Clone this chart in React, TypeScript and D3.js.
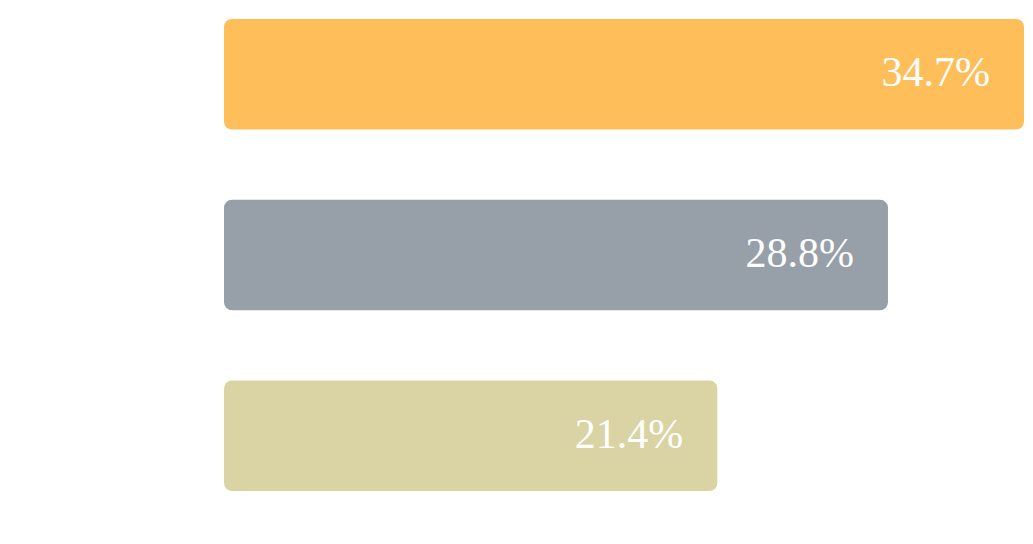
import React from 'react';
import * as d3 from 'd3';

const categories = ['First', 'Second', 'Third'];
const shares = [34.7, 28.8, 21.4];
const barColors = ['#FEBE5A', '#97A0A8', '#DAD3A3'];

const WIDTH = 1033;
const HEIGHT = 544;
const margin = { top: 19, right: 9, bottom: 53, left: 224 };

export default function App() {
  const xScale = d3
    .scaleLinear()
    .domain([0, d3.max(shares) as number])
    .range([margin.left, WIDTH - margin.right]);

  const yScale = d3
    .scaleBand<string>()
    .domain(categories)
    .range([margin.top, HEIGHT - margin.bottom])
    .paddingInner(0.388);

  const fmt = (v: number) => `${d3.format('.1f')(v)}%`;

  return (
    <svg
      width={WIDTH}
      height={HEIGHT}
      style={{ position: 'absolute', left: 0, top: 0, display: 'block' }}
    >
      {categories.map((cat, i) => {
        const y = yScale(cat) as number;
        const bw = yScale.bandwidth();
        const x1 = xScale(shares[i]);
        return (
          <g key={cat}>
            <rect
              x={xScale(0)}
              y={y}
              width={x1 - xScale(0)}
              height={bw}
              rx={8}
              ry={8}
              fill={barColors[i]}
            />
            <text
              x={x1 - 34}
              y={y + bw / 2 + 12}
              textAnchor="end"
              fill="#ffffff"
              style={{ fontFamily: '"Liberation Serif", serif', fontSize: 42 }}
            >
              {fmt(shares[i])}
            </text>
          </g>
        );
      })}
    </svg>
  );
}
